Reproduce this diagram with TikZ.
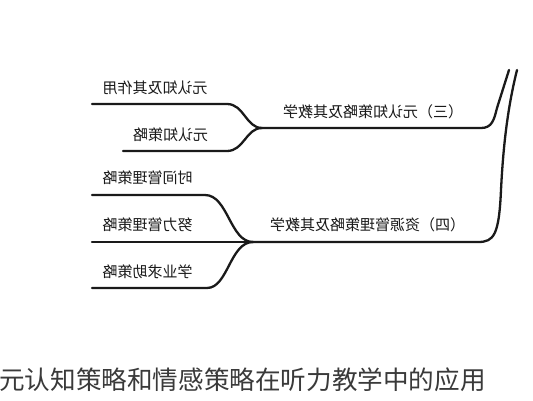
\documentclass[tikz,border=0pt]{standalone}
\usepackage{fontspec}
\newfontfamily\cjk{Noto Sans CJK SC}
\definecolor{ink}{HTML}{1A1A1A}
\definecolor{cap}{HTML}{3A3A3A}
\tikzset{
  branch/.style={draw=ink, line width=2.3pt, line cap=round},
  mtext/.style={xscale=-1, inner sep=0pt, text=ink, font=\cjk\fontsize{15}{16}\selectfont},
  captext/.style={inner sep=0pt, text=cap, font=\cjk\fontsize{25.6}{28}\selectfont}
}
\begin{document}
\begin{tikzpicture}[x=1pt,y=-1pt]
\useasboundingbox (0,0) rectangle (533,400);
\fill[white] (0,0) rectangle (533,400);
% top ends
\coordinate (t1) at (509,70);
\coordinate (t2) at (517,70);
% forks
\coordinate (f3) at (262,128);
\coordinate (f4) at (253,242);
% leaf ends
\coordinate (l31) at (92,104);
\coordinate (l32) at (123,151);
\coordinate (l41) at (92,195);
\coordinate (l42) at (92,242);
\coordinate (l43) at (92,288);
% main lines
\draw[branch] (f3) -- (481,128) .. controls (492,128) and (494,120) .. (497,108) -- (t1);
\draw[branch] (f4) -- (478,242) .. controls (494,242) and (499,235) .. (501,190) .. controls (503,150) and (507,110) .. (t2);
% branch (三)
\draw[branch] (f3) .. controls (246,128) and (244,104) .. (227,104) -- (l31);
\draw[branch] (f3) .. controls (246,128) and (244,151) .. (227,151) -- (l32);
% branch (四)
\draw[branch] (f4) .. controls (230,242) and (228,195) .. (205,195) -- (l41);
\draw[branch] (f4) -- (l42);
\draw[branch] (f4) .. controls (230,242) and (228,288) .. (207,288) -- (l43);
% labels
\node[mtext] (b3) at (373,112) {（三）元认知策略及其教学};
\node[mtext] (b4) at (367.5,225) {（四）资源管理策略及其教学};
\node[mtext] (n31) at (155,88) {元认知及其作用};
\node[mtext] (n32) at (170.5,135) {元认知策略};
\node[mtext] (n41) at (147.5,178) {时间管理策略};
\node[mtext] (n42) at (147.5,225) {努力管理策略};
\node[mtext] (n43) at (147.5,272) {学业求助策略};
\node[captext] (cap) at (242.5,380) {元认知策略和情感策略在听力教学中的应用};
\end{tikzpicture}
\end{document}
